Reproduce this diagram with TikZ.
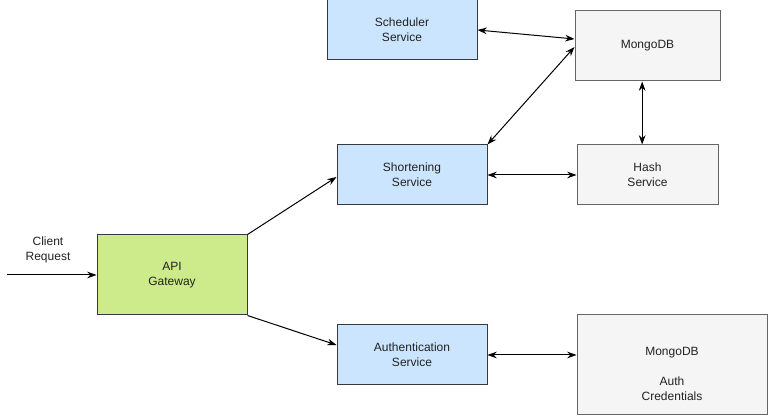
\documentclass[tikz,border=0pt]{standalone}
\usepackage{fontspec}
\setmainfont{Liberation Sans}
\usepackage{xcolor}
\definecolor{service-blue}{HTML}{CCE5FF}
\definecolor{gateway-green}{HTML}{CDEB8B}
\definecolor{store-grey}{HTML}{F5F5F5}
\definecolor{edge-dark}{HTML}{36393D}
\definecolor{edge-grey}{HTML}{666666}
\definecolor{label-dark}{HTML}{222222}
\usetikzlibrary{arrows.meta}

\tikzset{
    box/.style={rectangle, draw, line width=0.75pt, align=center, text=label-dark,
                font=\fontsize{9}{11.2}\selectfont, inner sep=0pt},
    service/.style={box, fill=service-blue, draw=edge-dark},
    gateway/.style={box, fill=gateway-green, draw=edge-dark},
    store/.style={box, fill=store-grey, draw=edge-grey},
    link/.style={line width=0.75pt, -{Stealth[length=7pt, width=5pt]}},
    biglink/.style={line width=0.75pt, {Stealth[length=7pt, width=5pt]}-{Stealth[length=7pt, width=5pt]}},
}

\begin{document}
\begin{tikzpicture}[x=0.75pt, y=-0.75pt]

    % Canvas
    \useasboundingbox (0, 0) rectangle (768, 416);
    \fill[white] (0, 0) rectangle (768, 416);

    % Boxes
    \node[gateway, minimum width=112.5pt, minimum height=60pt] (api) at (172, 275) {API\\Gateway};
    \node[service, minimum width=112.5pt, minimum height=45pt] (sched) at (402, 30) {Scheduler\\Service};
    \node[service, minimum width=112.5pt, minimum height=45pt] (short) at (412, 175) {Shortening\\Service};
    \node[service, minimum width=112.5pt, minimum height=45pt] (auth) at (412, 355) {Authentication\\Service};
    \node[store, minimum width=108.75pt, minimum height=52.5pt] (mongo) at (647.5, 46) {MongoDB};
    \node[store, minimum width=105.75pt, minimum height=45pt] (hash) at (647.5, 175) {Hash\\Service};
    \node[store, minimum width=142.5pt, minimum height=75pt,
          label={[yshift=-6.75pt, align=center, text=label-dark, font=\fontsize{9}{11.2}\selectfont]center:MongoDB\\[11.2pt]Auth\\Credentials}]
          (authdb) at (672, 365) {};

    % Client request
    \coordinate (client) at (7, 275);
    \node[font=\fontsize{9}{11.2}\selectfont, align=center, text=label-dark] (clientlabel) at (48, 250) {Client\\Request};

    % Connectors
    \draw[link] (client) -- (api.west);
    \draw[link] (api.north east) -- ([yshift=-1.5pt]short.west);
    \draw[link] (api.south east) -- ([yshift=7.5pt]auth.west);
    \draw[biglink] (sched.east) -- ([yshift=5.25pt]mongo.west);
    \draw[biglink] (short.north east) -- ([yshift=-0.75pt]mongo.west);
    \draw[biglink] (short.east) -- (hash.west);
    \draw[biglink] ([xshift=-4pt]mongo.south) -- ([xshift=-4pt]hash.north);
    \draw[biglink] (auth.east) -- (authdb.west |- auth.east);

\end{tikzpicture}
\end{document}
